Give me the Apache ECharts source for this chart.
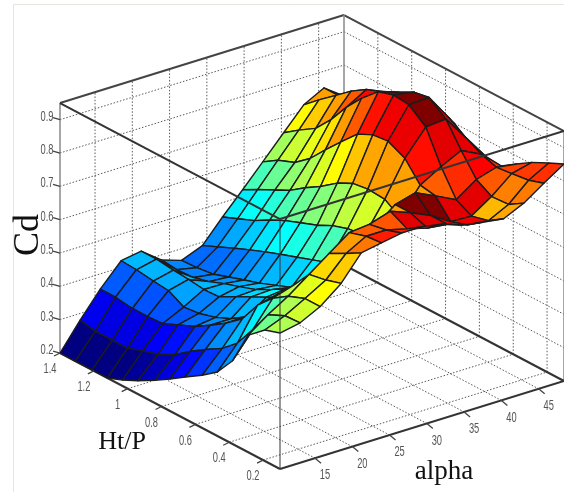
<!DOCTYPE html>
<html><head><meta charset="utf-8">
<style>html,body{margin:0;padding:0;background:#fff}#c{width:564px;height:492px;filter:blur(0.35px)}</style>
<script src="https://cdn.jsdelivr.net/npm/echarts@6/dist/echarts.min.js"></script>
</head><body><div id="c"></div>
<script>
// Grid of the surface
const alphaGrid = [10.3,13,15.7,18.5,21.2,23.9,26.6,29.4,32.1,34.8,37.5,40.3,43,45.7,48.4];
const htGrid = [1.4,1.31,1.21,1.12,1.03,0.94,0.84,0.75,0.66,0.56,0.47,0.38,0.29,0.19,0.1];
// Cd: one row per alpha, one value per Ht
const cd0  = [.20,.20,.20,.20,.218,.24,.268,.296,.326,.358,.392,.45,.55,.593,.608];
const cd1  = [.28,.27,.27,.27,.287,.30,.326,.36,.39,.42,.46,.524,.593,.617,.62];
const cd2  = [.354,.354,.347,.347,.35,.37,.392,.42,.45,.49,.555,.60,.63,.65,.65];
const cd3  = [.42,.417,.41,.405,.38,.385,.40,.42,.45,.50,.57,.62,.676,.686,.70];
const cd4  = [.43,.43,.424,.42,.414,.416,.443,.467,.49,.516,.545,.60,.72,.747,.773];
const cd5  = [.385,.38,.383,.395,.413,.428,.446,.47,.497,.524,.56,.62,.764,.78,.784];
const cd6  = [.365,.367,.374,.39,.405,.42,.44,.458,.50,.55,.61,.68,.77,.78,.795];
const cd7  = [.39,.41,.433,.452,.47,.487,.505,.521,.537,.60,.66,.72,.79,.764,.795];
const cd8  = [.457,.476,.497,.523,.545,.563,.582,.605,.62,.627,.66,.767,.767,.748,.784];
const cd9  = [.52,.545,.57,.593,.625,.653,.69,.713,.72,.716,.686,.784,.74,.74,.762];
const cd10 = [.585,.614,.634,.67,.72,.767,.818,.84,.845,.82,.764,.756,.703,.72,.752];
const cd11 = [.653,.685,.717,.767,.828,.879,.926,.94,.935,.895,.80,.725,.70,.713,.743];
const cd12 = [.718,.757,.797,.834,.863,.881,.906,.93,.938,.90,.83,.767,.74,.743,.771];
const cd13 = [.75,.75,.76,.78,.80,.83,.86,.87,.858,.825,.80,.785,.79,.797,.812];
const cd14 = [.707,.72,.74,.76,.78,.80,.82,.80,.765,.75,.746,.776,.805,.83,.851];
const cdRows = [cd0,cd1,cd2,cd3,cd4,cd5,cd6,cd7,cd8,cd9,cd10,cd11,cd12,cd13,cd14];
// Face colour values that differ from the height: [alpha index, Ht index, colour value]
const colourData = [[8,11,.92],[9,11,.92],[10,11,.85],[11,11,.85],[7,12,.85],[8,12,.85],[9,12,.85],[10,12,.84],
 [5,13,.81],[6,13,.81],[7,13,.81],[8,13,.81],[9,13,.79],[11,9,.85],[12,7,.85],[12,8,.85],[12,9,.85],[12,6,.85],[8,10,.70],[9,10,.72]];
const zTicks = [0.2,0.3,0.4,0.5,0.6,0.7,0.8,0.9];
const htTicks = [1.4,1.2,1,0.8,0.6,0.4,0.2];
const alphaTicks = [15,20,25,30,35,40,45];
const aMin=10.3,aMax=48.4,hMax=1.4,hMin=0.1,zMin=0.2,zMax=0.95;
const cMin=0.2,cMax=0.92;

// orthographic view of the box
function proj(a,h,z){
  const u=(a-aMin)/(aMax-aMin), v=(hMax-h)/(hMax-hMin);
  return [60+284*u+220*v, 353-88*u+116*v-333.3*(z-zMin)];
}
function jet(t){
  t=Math.max(0,Math.min(1,t));
  const f=c=>Math.round(255*Math.max(0,Math.min(1,c)));
  return `rgb(${f(1.5-Math.abs(4*t-3))},${f(1.5-Math.abs(4*t-2))},${f(1.5-Math.abs(4*t-1))})`;
}
const over={}; colourData.forEach(d=>over[d[0]+'_'+d[1]]=d[2]);
const faces=[];
for(let i=alphaGrid.length-2;i>=0;i--) for(let j=0;j<htGrid.length-1;j++) faces.push([i,j]);

const dot={stroke:'#5a5a5a',lineWidth:1,lineDash:[1.5,1.8]};
const wallLines=[];
zTicks.slice(1).forEach(z=>{wallLines.push([aMin,hMax,z,aMax,hMax,z]);wallLines.push([aMax,hMax,z,aMax,hMin,z]);});
alphaTicks.forEach(a=>{wallLines.push([a,hMax,zMin,a,hMax,zMax]);wallLines.push([a,hMax,zMin,a,hMin,zMin]);});
htTicks.slice(1).forEach(h=>{wallLines.push([aMax,h,zMin,aMax,h,zMax]);wallLines.push([aMin,h,zMin,aMax,h,zMin]);});
const backBox=[
 [aMin,hMax,zMax,aMax,hMax,zMax,'#444',2],[aMax,hMax,zMax,aMax,hMin,zMax,'#444',2],
 [aMin,hMax,zMin,aMin,hMax,zMax,'#888',1.5],[aMax,hMax,zMin,aMax,hMax,zMax,'#888',1.5],[aMax,hMin,zMin,aMax,hMin,zMax,'#888',1.5],
 [aMax,hMin,zMin,aMax,hMax,zMin,'#333',2],[aMin,hMax,zMin,aMax,hMax,zMin,'#555',1.5],
 [aMin,hMax,zMin,aMin,hMin,zMin,'#333',2],[aMin,hMin,zMin,aMax,hMin,zMin,'#333',2]
];
const frontBox=[
 [aMin,hMax,zMax,aMin,hMin,zMax,'#333',2],[aMin,hMin,zMax,aMax,hMin,zMax,'#333',2],
 [aMin,hMin,zMin,aMin,hMin,zMax,'#333',1]
];
const labels=[];
zTicks.forEach(z=>labels.push({p:[aMin,hMax,z],dx:-13,dy:-3,t:String(z),tx:-7,ty:-2}));
htTicks.forEach(h=>labels.push({p:[aMin,h,zMin],dx:-10,dy:16,t:String(h),tx:-6,ty:3}));
alphaTicks.forEach(a=>labels.push({p:[a,hMin,zMin],dx:10,dy:17,t:String(a),tx:6,ty:5}));

function seg(api,d,style){
  const p=api.coord(proj(d[0],d[1],d[2])),q=api.coord(proj(d[3],d[4],d[5]));
  return {type:'line',shape:{x1:p[0],y1:p[1],x2:q[0],y2:q[1]},style};
}
const idx=a=>a.map((_,i)=>[i]);
const base={type:'custom',coordinateSystem:'cartesian2d',clip:false,silent:true,animation:false};
const option={
 animation:false,backgroundColor:'#fff',
 grid:{left:0,right:0,top:0,bottom:0},
 xAxis:{type:'value',min:0,max:564,show:false},
 yAxis:{type:'value',min:0,max:492,inverse:true,show:false},
 graphic:[
  {type:'rect',z:-1,shape:{x:13.5,y:4.5,width:560,height:500},style:{fill:'none',stroke:'#e6e6de',lineWidth:1}},
  {type:'text',x:29,y:235,rotation:Math.PI/2,style:{text:'Cd',font:'36px "Liberation Serif"',fill:'#111',align:'center',verticalAlign:'middle'}},
  {type:'text',x:122,y:442,style:{text:'Ht/P',font:'26px "Liberation Serif"',fill:'#111',align:'center',verticalAlign:'middle'}},
  {type:'text',x:444,y:472,style:{text:'alpha',font:'27px "Liberation Serif"',fill:'#111',align:'center',verticalAlign:'middle'}}
 ],
 series:[
  {...base,name:'walls',z:1,data:idx(wallLines),renderItem:(p,api)=>seg(api,wallLines[p.dataIndex],dot)},
  {...base,name:'back box',z:2,data:idx(backBox),renderItem:(p,api)=>{const d=backBox[p.dataIndex];return seg(api,d,{stroke:d[6],lineWidth:d[7]});}},
  {...base,name:'Cd surface',z:3,data:idx(faces),renderItem:(p,api)=>{
    const [i,j]=faces[p.dataIndex];
    const c=[[i,j],[i+1,j],[i+1,j+1],[i,j+1]];
    const points=c.map(([a,b])=>api.coord(proj(alphaGrid[a],htGrid[b],cdRows[a][b])));
    const k=i+'_'+j, val=(k in over)?over[k]:cdRows[i][j];
    return {type:'polygon',shape:{points},style:{fill:jet((val-cMin)/(cMax-cMin)),stroke:'#1c1c1c',lineWidth:1.4,lineJoin:'round'}};
  }},
  {...base,name:'front box',z:4,data:idx(frontBox),renderItem:(p,api)=>{const d=frontBox[p.dataIndex];return seg(api,d,{stroke:d[6],lineWidth:d[7]});}},
  {...base,name:'ticks',z:5,data:idx(labels),renderItem:(p,api)=>{
    const l=labels[p.dataIndex];
    const a=api.coord(proj(l.p[0],l.p[1],l.p[2]));
    return {type:'group',children:[
      {type:'line',shape:{x1:a[0],y1:a[1],x2:a[0]+l.tx,y2:a[1]+l.ty},style:{stroke:'#444',lineWidth:1.3}},
      {type:'text',x:a[0]+l.dx,y:a[1]+l.dy,scaleX:0.62,style:{text:l.t,font:'15px "Liberation Sans"',fill:'#555',align:'center',verticalAlign:'middle'}}
    ]};
  }}
 ]
};
echarts.init(document.getElementById('c'),null,{renderer:'canvas'}).setOption(option);
</script></body></html>
